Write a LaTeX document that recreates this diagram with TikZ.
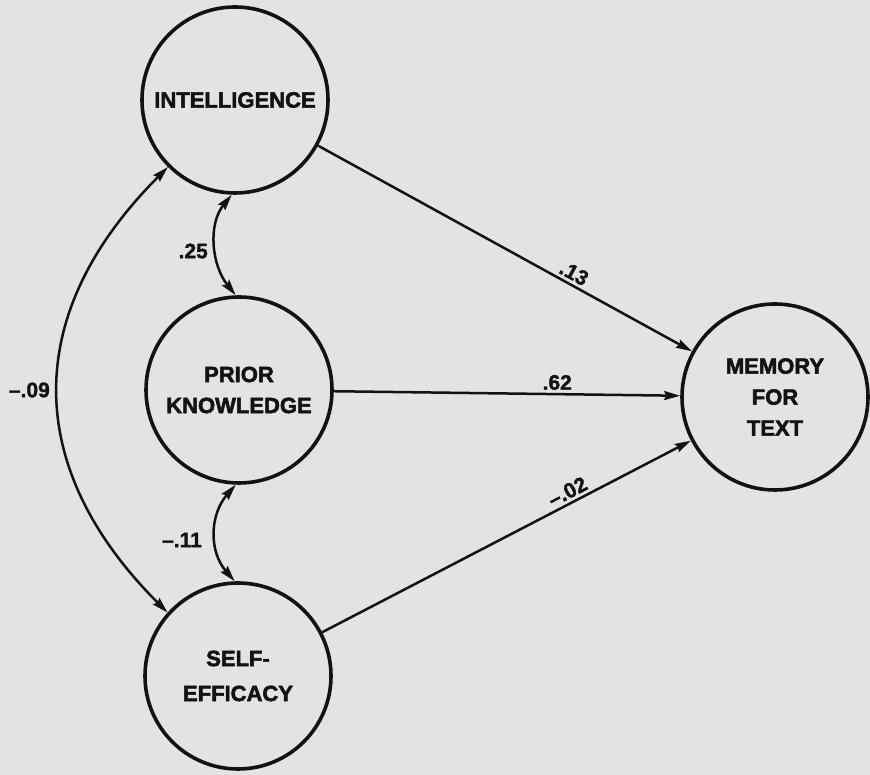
\documentclass[tikz,border=0pt]{standalone}
\usepackage{fontspec}
\setmainfont{Liberation Sans}[BoldFeatures={FakeBold=2.4}]
\newfontfamily\coeffont{Liberation Sans}[BoldFeatures={FakeBold=1.4}]
\usetikzlibrary{arrows.meta}
\definecolor{paper}{HTML}{E3E3E3}
\definecolor{ink}{HTML}{121212}
\begin{document}
\begin{tikzpicture}[x=1pt,y=1pt,
  var/.style={circle, draw=ink, line width=3.6pt, minimum size=186pt, inner sep=0pt,
    font=\fontsize{22}{31}\selectfont\bfseries, align=center, text=ink},
  effect/.style={draw=ink, line width=2.5pt, -{Stealth[length=16pt,width=9pt,inset=2pt]}},
  corr/.style={draw=ink, line width=2.5pt, {Stealth[length=16pt,width=9pt,inset=2pt]}-{Stealth[length=16pt,width=9pt,inset=2pt]}},
  coef/.style={font=\coeffont\fontsize{21}{23}\selectfont\bfseries, text=ink, inner sep=3pt},
  coeflight/.style={font=\coeffont\fontsize{21}{23}\selectfont, text=ink, inner sep=3pt}]
\fill[paper] (0,0) rectangle (870,775);
\useasboundingbox (0,0) rectangle (870,775);
\node[var] (intel) at (235,675) {INTELLIGENCE};
\node[var] (prior) at (239,385) {PRIOR\\KNOWLEDGE};
\node[var] (self) at (238,99) {SELF-\\[4pt]EFFICACY};
\node[var] (mem) at (775,378) {MEMORY\\FOR\\TEXT};
% direct effects
\draw[effect] (intel) -- node[coeflight, pos=0.67, sloped, above] (l13) {\bfseries .13} (mem);
\draw[effect] (prior) -- node[coef, pos=0.645, above] (l62) {.62} (mem);
\draw[effect] (self) -- node[coef, pos=0.68, sloped, above] (l02) {–.02} (mem);
% correlations
\draw[corr] (intel.268) .. controls +(-24,-30) and +(-24,30) .. (prior.92);
\node[coef, anchor=east] (l25) at (211,524) {.25};
\draw[corr] (prior.268) .. controls +(-26,-30) and +(-26,30) .. (self.92);
\node[coef, anchor=east] (l11) at (205,235) {–.11};
\draw[corr] (intel.225) .. controls (22,462) and (22,308) .. (self.138);
\node[coef, anchor=east] (l09) at (53,385) {–.09};
\end{tikzpicture}
\end{document}
